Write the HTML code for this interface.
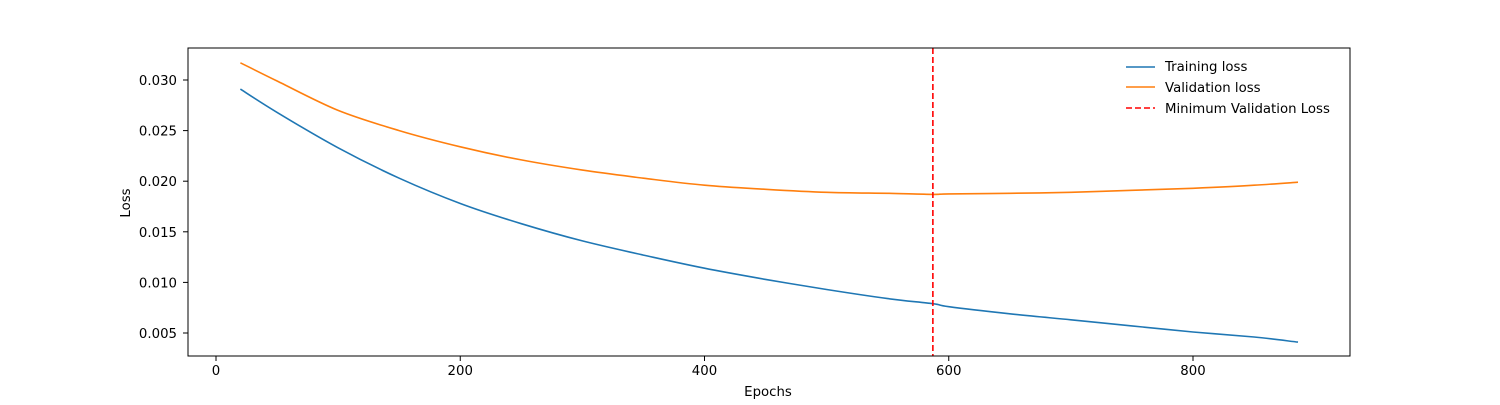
<!DOCTYPE html>
<html><head><meta charset="utf-8"><style>
html,body{margin:0;padding:0;background:#fff;}
svg text{font-family:"DejaVu Sans","Liberation Sans",sans-serif;font-size:13.3px;fill:#000;}
</style></head><body>
<svg width="1500" height="400" xmlns="http://www.w3.org/2000/svg">
<g id="plot"></g>
<rect x="188" y="48" width="1162" height="308" fill="none" stroke="#000" stroke-width="1"/>
<text x="768" y="396" text-anchor="middle">Epochs</text>
<text transform="translate(130,203) rotate(-90)" text-anchor="middle">Loss</text>
<g>
<line x1="1126" y1="67" x2="1155" y2="67" stroke="#1f77b4" stroke-width="1.6"/>
<text x="1165" y="71">Training loss</text>
<line x1="1126" y1="87" x2="1155" y2="87" stroke="#ff7f0e" stroke-width="1.6"/>
<text x="1165" y="92">Validation loss</text>
<line x1="1126" y1="108" x2="1155" y2="108" stroke="#ff0000" stroke-width="1.6" stroke-dasharray="6,3"/>
<text x="1165" y="113">Minimum Validation Loss</text>
</g>
</svg>
<script>
const epochs = [20,50,100,150,200,250,300,350,400,450,500,550,587,600,650,700,750,800,850,886];
const trainLoss = [0.0291,0.0268,0.0233,0.0203,0.0178,0.0158,0.0141,0.0127,0.0114,0.0103,0.0093,0.0084,0.0079,0.0076,0.0069,0.0063,0.0057,0.0051,0.0046,0.0041];
const valLoss = [0.0317,0.0299,0.0270,0.0250,0.0234,0.0221,0.0211,0.0203,0.0196,0.0192,0.0189,0.0188,0.0187,0.01875,0.0188,0.0189,0.0191,0.0193,0.0196,0.0199];
const minEpoch = 587;
const xTicks = [0,200,400,600,800];
const yTicks = [0.005,0.010,0.015,0.020,0.025,0.030];
const NS="http://www.w3.org/2000/svg";
function xs(v){return 216 + v*1.22125;}
function ys(v){return 333 - (v-0.005)*10120;}
const g=document.getElementById('plot');
function mk(t,a){const e=document.createElementNS(NS,t);for(const k in a)e.setAttribute(k,a[k]);g.appendChild(e);return e;}
xTicks.forEach(t=>{
  const l=mk('line',{x1:xs(t),x2:xs(t),y1:356,y2:361,stroke:'#000'});
  
  
  const tx=mk('text',{x:xs(t),y:375,'text-anchor':'middle'});tx.textContent=t;
  
  
});
yTicks.forEach(t=>{
  const l=mk('line',{x1:183,x2:188,y1:ys(t),y2:ys(t),stroke:'#000'});
  
  
  const tx=mk('text',{x:177,y:ys(t)+5,'text-anchor':'end'});tx.textContent=t.toFixed(3);
  
  
});
function path(arr){
  const p=epochs.map((e,i)=>[xs(e),ys(arr[i])]);
  let d='M'+p[0][0].toFixed(1)+','+p[0][1].toFixed(1);
  for(let i=0;i<p.length-1;i++){
    const p0=p[Math.max(0,i-1)],p1=p[i],p2=p[i+1],p3=p[Math.min(p.length-1,i+2)];
    const c1=[p1[0]+(p2[0]-p0[0])/6,p1[1]+(p2[1]-p0[1])/6];
    const c2=[p2[0]-(p3[0]-p1[0])/6,p2[1]-(p3[1]-p1[1])/6];
    d+=' C'+c1[0].toFixed(1)+','+c1[1].toFixed(1)+' '+c2[0].toFixed(1)+','+c2[1].toFixed(1)+' '+p2[0].toFixed(1)+','+p2[1].toFixed(1);
  }
  return d;
}
const tl=mk('path',{d:path(trainLoss),fill:'none',stroke:'#1f77b4','stroke-width':1.6});


const vl=mk('path',{d:path(valLoss),fill:'none',stroke:'#ff7f0e','stroke-width':1.6});


const ml=mk('line',{x1:xs(minEpoch),x2:xs(minEpoch),y1:48,y2:356,stroke:'#ff0000','stroke-width':1.6,'stroke-dasharray':'6,3'});


</script>
</body></html>
